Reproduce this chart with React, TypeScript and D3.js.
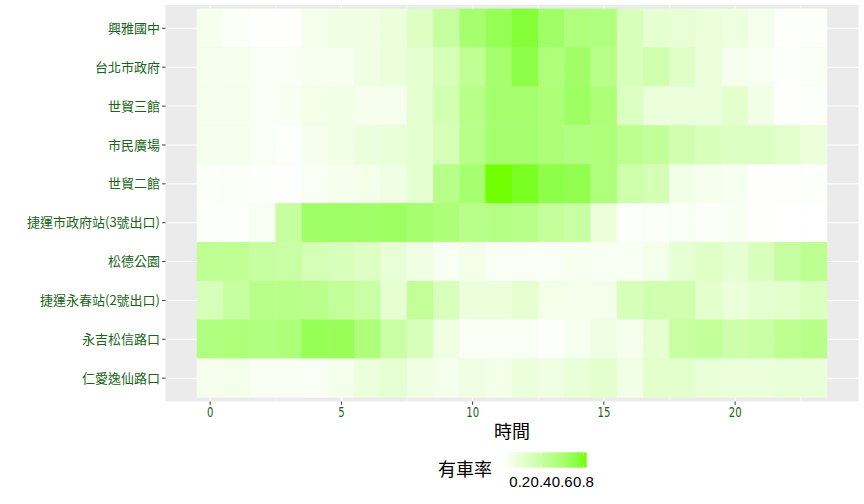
import { useEffect, useRef } from 'react'
import * as d3 from 'd3'

// stations, top to bottom as drawn
const stations = [
  '興雅國中',
  '台北市政府',
  '世貿三館',
  '市民廣場',
  '世貿二館',
  '捷運市政府站(3號出口)',
  '松德公園',
  '捷運永春站(2號出口)',
  '永吉松信路口',
  '仁愛逸仙路口',
]

const hours = [0, 1, 2, 3, 4, 5, 6, 7, 8, 9, 10, 11, 12, 13, 14, 15, 16, 17, 18, 19, 20, 21, 22, 23]

// share of docks with a bike, per hour
const xingya = [0.1, 0.06, 0.04, 0.04, 0.11, 0.14, 0.14, 0.17, 0.27, 0.42, 0.6, 0.68, 0.76, 0.63, 0.55, 0.54, 0.3, 0.22, 0.2, 0.18, 0.16, 0.11, 0.05, 0.05]
const cityHall = [0.1, 0.1, 0.07, 0.07, 0.09, 0.09, 0.14, 0.18, 0.22, 0.32, 0.46, 0.6, 0.72, 0.56, 0.63, 0.5, 0.3, 0.36, 0.26, 0.17, 0.1, 0.08, 0.05, 0.07]
const wtc3 = [0.1, 0.1, 0.07, 0.08, 0.12, 0.13, 0.1, 0.1, 0.22, 0.34, 0.5, 0.6, 0.6, 0.57, 0.64, 0.57, 0.28, 0.17, 0.17, 0.17, 0.24, 0.13, 0.04, 0.05]
const citizenSquare = [0.1, 0.1, 0.07, 0.05, 0.1, 0.13, 0.17, 0.19, 0.22, 0.32, 0.5, 0.6, 0.6, 0.57, 0.54, 0.56, 0.48, 0.44, 0.35, 0.3, 0.28, 0.28, 0.24, 0.18]
const wtc2 = [0.06, 0.06, 0.05, 0.04, 0.07, 0.1, 0.12, 0.14, 0.22, 0.5, 0.6, 0.83, 0.8, 0.72, 0.7, 0.55, 0.37, 0.33, 0.13, 0.1, 0.09, 0.04, 0.04, 0.05]
const mrtCityHall3 = [0.05, 0.05, 0.08, 0.42, 0.63, 0.63, 0.63, 0.64, 0.6, 0.57, 0.5, 0.52, 0.5, 0.43, 0.4, 0.18, 0.05, 0.06, 0.07, 0.06, 0.08, 0.04, 0.03, 0.03]
const songdePark = [0.46, 0.46, 0.42, 0.4, 0.33, 0.3, 0.27, 0.2, 0.14, 0.08, 0.12, 0.07, 0.07, 0.07, 0.09, 0.08, 0.08, 0.11, 0.21, 0.26, 0.21, 0.3, 0.42, 0.47]
const mrtYongchun2 = [0.31, 0.42, 0.5, 0.5, 0.49, 0.44, 0.4, 0.22, 0.44, 0.3, 0.17, 0.17, 0.22, 0.12, 0.11, 0.11, 0.31, 0.35, 0.35, 0.24, 0.18, 0.22, 0.24, 0.29]
const yongjiSongxin = [0.54, 0.56, 0.54, 0.56, 0.68, 0.67, 0.56, 0.4, 0.3, 0.14, 0.07, 0.07, 0.07, 0.05, 0.09, 0.14, 0.1, 0.22, 0.41, 0.44, 0.37, 0.4, 0.47, 0.5]
const renaiYixian = [0.1, 0.11, 0.08, 0.08, 0.07, 0.11, 0.18, 0.21, 0.14, 0.11, 0.14, 0.12, 0.17, 0.15, 0.19, 0.23, 0.13, 0.24, 0.24, 0.19, 0.18, 0.18, 0.19, 0.19]

const xTicks = [0, 5, 10, 15, 20]
const legendBreaks = [0.2, 0.4, 0.6, 0.8]

const rows = [xingya, cityHall, wtc3, citizenSquare, wtc2, mrtCityHall3, songdePark, mrtYongchun2, yongjiSongxin, renaiYixian]

const WIDTH = 864
const HEIGHT = 504
const HIGH = '#72FF00'
const LABEL_GREEN = '#186418'

export default function App() {
  const svgRef = useRef<SVGSVGElement>(null)

  useEffect(() => {
    if (!svgRef.current) return
    const svg = d3.select(svgRef.current)
    svg.selectAll('*').remove()

    const panel = { left: 165.5, right: 858.5, top: 5, bottom: 401.5 }

    const x = d3.scaleLinear().domain([-1.7, 24.7]).range([panel.left, panel.right])
    const y = d3.scaleLinear().domain([-0.6, stations.length - 0.4]).range([panel.top, panel.bottom])

    const cells = rows.flatMap((vals, i) => vals.map((v, h) => ({ row: i, hour: hours[h], value: v })))
    const [vmin, vmax] = d3.extent(cells, (d) => d.value) as [number, number]

    const color = d3
      .scaleLinear<string>()
      .domain([vmin, vmax])
      .range(['#FFFFFF', HIGH])
      .interpolate(d3.interpolateLab)

    // panel background
    svg
      .append('rect')
      .attr('x', panel.left)
      .attr('y', panel.top)
      .attr('width', panel.right - panel.left)
      .attr('height', panel.bottom - panel.top)
      .attr('fill', '#EBEBEB')

    // grid
    const minor = xTicks.map((t) => t + 2.5)
    svg
      .append('g')
      .selectAll('line')
      .data(minor)
      .enter()
      .append('line')
      .attr('x1', (d) => x(d))
      .attr('x2', (d) => x(d))
      .attr('y1', panel.top)
      .attr('y2', panel.bottom)
      .attr('stroke', '#FFFFFF')
      .attr('stroke-width', 0.55)

    svg
      .append('g')
      .selectAll('line')
      .data(xTicks)
      .enter()
      .append('line')
      .attr('x1', (d) => x(d))
      .attr('x2', (d) => x(d))
      .attr('y1', panel.top)
      .attr('y2', panel.bottom)
      .attr('stroke', '#FFFFFF')
      .attr('stroke-width', 1.1)

    svg
      .append('g')
      .selectAll('line')
      .data(stations)
      .enter()
      .append('line')
      .attr('x1', panel.left)
      .attr('x2', panel.right)
      .attr('y1', (_, i) => y(i))
      .attr('y2', (_, i) => y(i))
      .attr('stroke', '#FFFFFF')
      .attr('stroke-width', 1.1)

    // tiles
    svg
      .append('g')
      .selectAll('rect')
      .data(cells)
      .enter()
      .append('rect')
      .attr('x', (d) => x(d.hour - 0.5))
      .attr('y', (d) => y(d.row - 0.5))
      .attr('width', x(1) - x(0))
      .attr('height', y(1) - y(0))
      .attr('fill', (d) => color(d.value))
      .attr('stroke', (d) => color(d.value))
      .attr('stroke-width', 0.4)

    // y axis
    const yAxis = svg.append('g')
    yAxis
      .selectAll('line')
      .data(stations)
      .enter()
      .append('line')
      .attr('x1', panel.left - 3.3)
      .attr('x2', panel.left)
      .attr('y1', (_, i) => y(i))
      .attr('y2', (_, i) => y(i))
      .attr('stroke', '#333333')
      .attr('stroke-width', 1)
    yAxis
      .selectAll('text')
      .data(stations)
      .enter()
      .append('text')
      .attr('x', panel.left - 5.5)
      .attr('y', (_, i) => y(i))
      .attr('dy', '0.36em')
      .attr('text-anchor', 'end')
      .attr('fill', LABEL_GREEN)
      .attr('font-family', '"Noto Sans CJK TC", sans-serif')
      .attr('font-size', 13)
      .text((d) => d)

    // x axis
    const xAxis = svg.append('g')
    xAxis
      .selectAll('line')
      .data(xTicks)
      .enter()
      .append('line')
      .attr('x1', (d) => x(d))
      .attr('x2', (d) => x(d))
      .attr('y1', panel.bottom)
      .attr('y2', panel.bottom + 3.3)
      .attr('stroke', '#333333')
      .attr('stroke-width', 1)
    xAxis
      .selectAll('text')
      .data(xTicks)
      .enter()
      .append('text')
      .attr('transform', (d) => `translate(${x(d)},${panel.bottom + 15}) scale(0.72,1)`)
      .attr('text-anchor', 'middle')
      .attr('fill', LABEL_GREEN)
      .attr('font-family', '"DejaVu Sans", sans-serif')
      .attr('font-size', 14)
      .text((d) => d)

    svg
      .append('text')
      .attr('x', (panel.left + panel.right) / 2)
      .attr('y', 438)
      .attr('text-anchor', 'middle')
      .attr('fill', '#000000')
      .attr('font-family', '"Noto Sans CJK TC", sans-serif')
      .attr('font-size', 18)
      .text('時間')

    // legend
    const bar = { left: 501.7, right: 586.7, top: 452.3, bottom: 467.7 }
    const lx = d3.scaleLinear().domain([vmin, vmax]).range([bar.left, bar.right])

    const grad = svg
      .append('defs')
      .append('linearGradient')
      .attr('id', 'legend-gradient')
      .attr('x1', '0%')
      .attr('x2', '100%')
      .attr('y1', '0%')
      .attr('y2', '0%')
    d3.range(0, 1.0001, 0.1).forEach((t) => {
      grad
        .append('stop')
        .attr('offset', `${t * 100}%`)
        .attr('stop-color', color(vmin + t * (vmax - vmin)))
    })

    svg
      .append('rect')
      .attr('x', bar.left)
      .attr('y', bar.top)
      .attr('width', bar.right - bar.left)
      .attr('height', bar.bottom - bar.top)
      .attr('fill', 'url(#legend-gradient)')

    const tickLen = (bar.bottom - bar.top) / 5
    legendBreaks.forEach((b) => {
      svg
        .append('line')
        .attr('x1', lx(b))
        .attr('x2', lx(b))
        .attr('y1', bar.top)
        .attr('y2', bar.top + tickLen)
        .attr('stroke', '#FFFFFF')
        .attr('stroke-width', 0.6)
      svg
        .append('line')
        .attr('x1', lx(b))
        .attr('x2', lx(b))
        .attr('y1', bar.bottom - tickLen)
        .attr('y2', bar.bottom)
        .attr('stroke', '#FFFFFF')
        .attr('stroke-width', 0.6)
    })

    svg
      .append('g')
      .selectAll('text')
      .data(legendBreaks)
      .enter()
      .append('text')
      .attr('x', (d) => lx(d))
      .attr('y', 487)
      .attr('text-anchor', 'middle')
      .attr('fill', '#000000')
      .attr('font-family', '"Liberation Sans", sans-serif')
      .attr('font-size', 15)
      .text((d) => d3.format('.1f')(d))

    svg
      .append('text')
      .attr('x', 438)
      .attr('y', 476)
      .attr('fill', '#000000')
      .attr('font-family', '"Noto Sans CJK TC", sans-serif')
      .attr('font-size', 18)
      .text('有車率')
  }, [])

  return (
    <svg
      ref={svgRef}
      width={WIDTH}
      height={HEIGHT}
      style={{ position: 'absolute', left: 0, top: 0, background: '#FFFFFF' }}
    />
  )
}
